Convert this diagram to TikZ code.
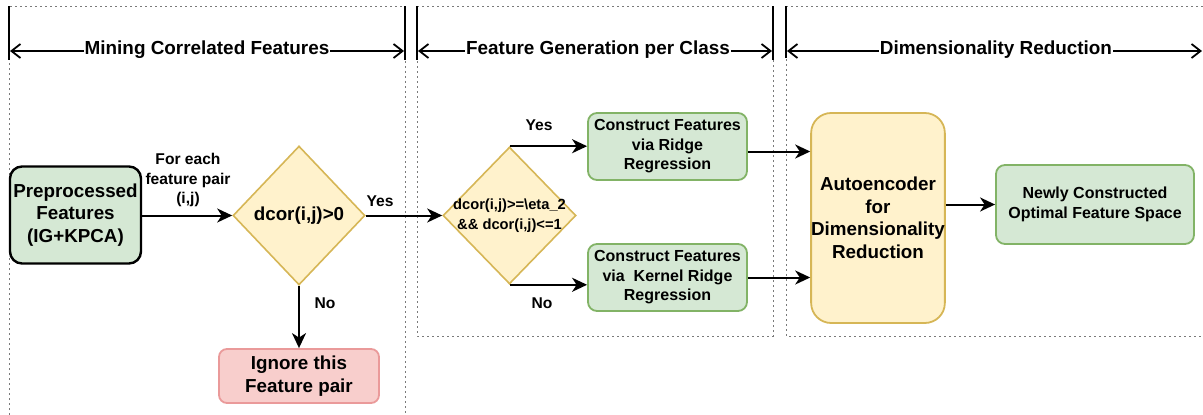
\documentclass[tikz,border=0pt]{standalone}
\usepackage{fontspec}
\setmainfont{Liberation Sans}
\usetikzlibrary{shapes.geometric,arrows.meta}
\definecolor{gfill}{HTML}{D5E8D4}
\definecolor{gline}{HTML}{82B366}
\definecolor{yfill}{HTML}{FFF2CC}
\definecolor{yline}{HTML}{D6B656}
\definecolor{rfill}{HTML}{F8CECC}
\definecolor{rline}{HTML}{EA9A9A}
\definecolor{dotc}{HTML}{7A7A7A}
\begin{document}
\begin{tikzpicture}[x=1pt,y=-1pt,
  every node/.style={align=center},
  big/.style={font=\fontsize{18.8}{22.5}\selectfont\bfseries},
  mid/.style={font=\fontsize{16}{19.5}\selectfont\bfseries},
  sml/.style={font=\fontsize{14.7}{20}\selectfont\bfseries},
  lbl/.style={font=\fontsize{15.6}{19.5}\selectfont\bfseries, inner sep=0pt},
  head/.style={font=\fontsize{18.9}{20}\selectfont\bfseries, fill=white, inner sep=1pt},
  gbox/.style={draw=gline, fill=gfill, line width=1.8pt, rounded corners=9pt, inner sep=0pt},
  pbox/.style={draw=black, fill=gfill, line width=2.4pt, rounded corners=12pt, inner sep=0pt},
  ybox/.style={draw=yline, fill=yfill, line width=1.8pt, rounded corners=20pt, inner sep=0pt},
  rbox/.style={draw=rline, fill=rfill, line width=1.8pt, rounded corners=8pt, inner sep=0pt},
  dia/.style={diamond, draw=yline, fill=yfill, line width=1.6pt, inner sep=0pt},
  flow/.style={draw=black, line width=2pt, -{Stealth[length=15pt,width=14pt,inset=4.5pt]}},
  dim/.style={draw=black, line width=1.8pt, {Straight Barb[length=9pt,width=14pt]}-{Straight Barb[length=9pt,width=14pt]}},
  bar/.style={draw=black, line width=2pt},
  dotl/.style={draw=dotc, line width=0.9pt, dash pattern=on 2pt off 3pt}
]
\useasboundingbox (0,0) rectangle (1203,415);

% panels (dotted)
\draw[dotl] (9,415) -- (9,6) -- (405,6) -- (405,415);
\draw[dotl] (417,6) rectangle (773,336);
\draw[dotl] (1203,6) -- (786,6) -- (786,336) -- (1203,336);

% heading bars
\draw[bar] (9,6) -- (9,60);
\draw[bar] (405,6) -- (405,60);
\draw[bar] (417,6) -- (417,60);
\draw[bar] (773,6) -- (773,60);
\draw[bar] (786,6) -- (786,58);

% heading dimension arrows
\coordinate (h1a) at (10,51);
\coordinate (h1b) at (404,51);
\coordinate (h2a) at (418,51);
\coordinate (h2b) at (772,51);
\coordinate (h3a) at (787,51);
\coordinate (h3b) at (1202,51);
\draw[dim] (h1a) -- (h1b);
\draw[dim] (h2a) -- (h2b);
\draw[dim] (h3a) -- (h3b);
\node[head] (t1) at (207,50) {Mining Correlated Features};
\node[head] (t2) at (598,50) {Feature Generation per Class};
\node[head] (t3) at (996,50) {Dimensionality Reduction};

% nodes
\node[pbox, big, minimum width=131pt, minimum height=97pt] (pre) at (75.5,215) {Preprocessed\\Features\\(IG+KPCA)};
\node[dia, minimum width=132pt, minimum height=139pt] (d1) at (299,215.5) {};
\node[big, inner sep=0pt] (d1t) at (d1) {dcor(i,j)>0};
\node[rbox, big, minimum width=160pt, minimum height=54pt] (ign) at (299,376) {Ignore this\\Feature pair};

\node[dia, minimum width=133pt, minimum height=137pt] (d2) at (509.5,215.5) {};
\node[sml, inner sep=0pt] (d2t) at (d2) {dcor(i,j)>=\textbackslash eta\_2\\\&\& dcor(i,j)<=1};

\node[gbox, mid, minimum width=159pt, minimum height=67pt] (c1) at (667.5,146.5) {Construct Features\\via Ridge\\Regression};
\node[gbox, mid, minimum width=159pt, minimum height=67pt] (c2) at (667.5,277.5) {Construct Features\\via\ \ Kernel Ridge\\Regression};

\node[ybox, big, minimum width=132pt, minimum height=210pt] (ae) at (878,218) {Autoencoder\\for\\Dimensionality\\Reduction};
\node[gbox, mid, minimum width=198pt, minimum height=79pt] (nw) at (1095,204.5) {Newly Constructed\\Optimal Feature Space};

% connectors
\draw[flow] (pre.east |- d1.west) -- (d1.west);
\node[lbl] (lfe) at (188,180) {For each\\feature pair\\(i,j)};
\draw[flow] (d1.east) -- (d2.west);
\node[lbl] (lyes1) at (380,201) {Yes};
\draw[flow] (d1.south) -- (ign.north);
\node[lbl] (lno1) at (325,303) {No};

\draw[flow] (d2.north) -- (d2.north -| c1.west);
\node[lbl] (lyes2) at (539,125) {Yes};
\draw[flow] (d2.south) -- (d2.south -| c2.west);
\node[lbl] (lno2) at (542,303) {No};

\draw[flow] ([yshift=-5pt]c1.east) -- ([yshift=-5pt]c1.east -| ae.west);
\draw[flow] (c2.east) -- (c2.east -| ae.west);
\draw[flow] (nw.west -| ae.east) -- (nw.west);
\end{tikzpicture}
\end{document}
